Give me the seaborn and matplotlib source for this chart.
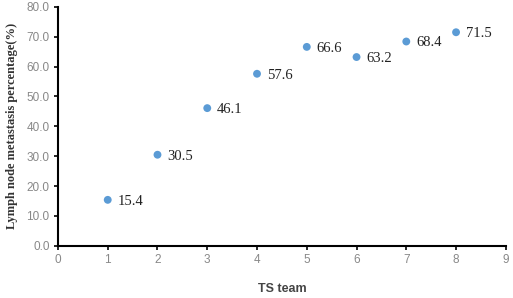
import matplotlib
matplotlib.use("Agg")
import matplotlib.pyplot as plt
import seaborn as sns
import pandas as pd

# data
teams = [1, 2, 3, 4, 5, 6, 7, 8]
percentages = [15.4, 30.5, 46.1, 57.6, 66.6, 63.2, 68.4, 71.5]
y_ticks = [0, 10, 20, 30, 40, 50, 60, 70, 80]
x_ticks = [0, 1, 2, 3, 4, 5, 6, 7, 8, 9]

df = pd.DataFrame({"team": teams, "pct": percentages})

sns.set_theme(style="white")
plt.rcParams['font.family'] = ['Liberation Sans', 'DejaVu Sans']

fig = plt.figure(figsize=(5.13, 2.98), dpi=100)
ax = fig.add_axes([0.113, 0.175, 0.873, 0.802])

sns.scatterplot(data=df, x="team", y="pct", ax=ax, color="#5B9BD5",
                s=32, edgecolor="none", zorder=3)

for t, p in zip(teams, percentages):
    ax.annotate(f"{p:.1f}", (t, p), xytext=(7, -1), textcoords="offset points",
                va="center", ha="left", fontsize=10.5, color="#222222",
                family="Liberation Serif")

ax.set_xlim(0, 9)
ax.set_ylim(0, 80)
ax.set_xticks(x_ticks)
ax.set_yticks(y_ticks)
ax.set_yticklabels([f"{v:.1f}" for v in y_ticks])
ax.tick_params(axis="both", bottom=True, left=True, labelsize=8.5,
               labelcolor="#888888", color="black", length=3, width=1.2,
               direction="out", pad=3)

for side in ["top", "right"]:
    ax.spines[side].set_visible(False)
for side in ["left", "bottom"]:
    ax.spines[side].set_color("black")
    ax.spines[side].set_linewidth(1.5)

ax.set_xlabel("TS team", fontsize=9, fontweight="bold", color="#444444", labelpad=12)
ax.set_ylabel("Lymph node metastasis percentage(%)", fontsize=9, fontweight="bold",
              color="#333333", family="Liberation Serif", labelpad=6)

fig.savefig("out.png", dpi=100)
